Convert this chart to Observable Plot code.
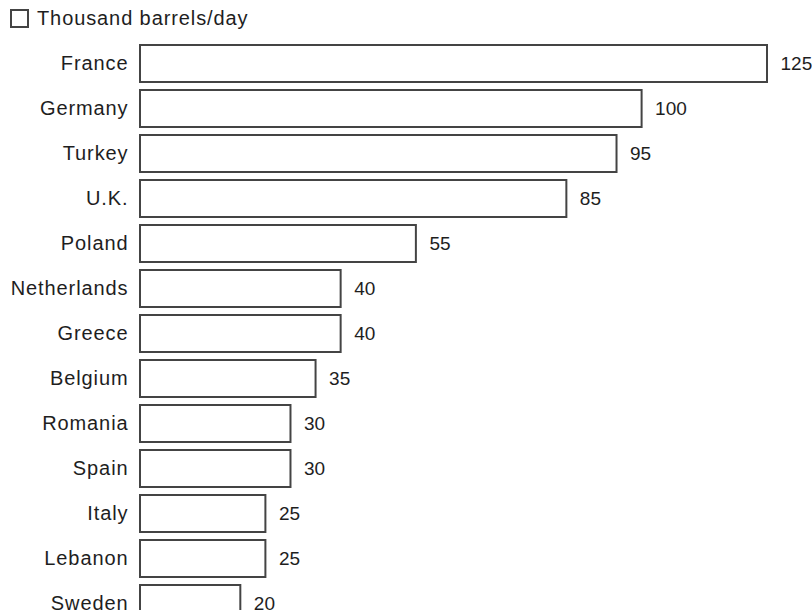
<!DOCTYPE html>
<html>
<head>
<meta charset="utf-8">
<script src="https://cdn.jsdelivr.net/npm/d3@7"></script>
<script src="https://cdn.jsdelivr.net/npm/@observablehq/plot@0.6"></script>
<style>
  html, body { margin: 0; padding: 0; background: #fff; }
  #wrap { width: 812px; height: 610px; overflow: hidden; position: relative; font-family: "Liberation Sans", Arial, sans-serif; color: #1e1e1e; }
  #legend { position: absolute; left: 10px; top: 8px; height: 20px; display: flex; align-items: center; font-size: 20px; letter-spacing: 0.9px; }
  #legend .sw { width: 15px; height: 15px; border: 2px solid #444; margin-right: 8px; background: #fff; flex: none; }
  #chart { position: absolute; left: 0; top: 32px; }
  #chart g[aria-label="y-axis tick label"] text { letter-spacing: 0.9px; }
</style>
</head>
<body>
<div id="wrap">
  <div id="legend"><span class="sw"></span><span id="unit"></span></div>
  <div id="chart"></div>
</div>
<script>
const countries = ["France", "Germany", "Turkey", "U.K.", "Poland", "Netherlands", "Greece", "Belgium", "Romania", "Spain", "Italy", "Lebanon", "Sweden"];
const values = [125, 100, 95, 85, 55, 40, 40, 35, 30, 30, 25, 25, 20];
const unitLabel = "Thousand barrels/day";

document.getElementById("unit").textContent = unitLabel;
const data = countries.map((c, i) => ({country: c, value: values[i]}));

const plot = Plot.plot({
  width: 812,
  height: 594,
  marginLeft: 140,
  marginRight: 45,
  marginTop: 9,
  marginBottom: 0,
  style: {fontFamily: "'Liberation Sans', Arial, sans-serif", fontSize: "20px", color: "#1e1e1e", overflow: "visible"},
  x: {domain: [0, 125], axis: null},
  y: {domain: countries, paddingInner: 0.18, paddingOuter: 0.09, label: null},
  marks: [
    Plot.barX(data, {x: "value", y: "country", fill: "white", stroke: "#444", strokeWidth: 2}),
    Plot.text(data, {x: "value", y: "country", text: d => String(d.value), textAnchor: "start", dx: 13, fill: "#1e1e1e", fontSize: 19}),
    Plot.axisY({tickSize: 0, tickPadding: 12, fontSize: 20, label: null, color: "#1e1e1e"})
  ]
});
document.getElementById("chart").appendChild(plot);
</script>
</body>
</html>
